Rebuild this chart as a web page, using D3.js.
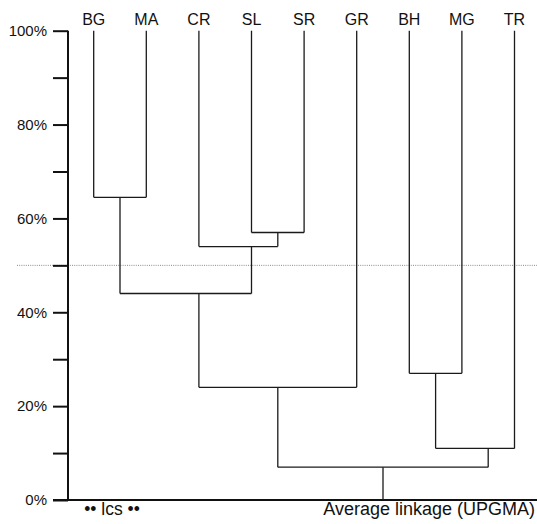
<!DOCTYPE html>
<html>
<head>
<meta charset="utf-8">
<script src="https://cdn.jsdelivr.net/npm/d3@7"></script>
<style>
  body { margin: 0; background: #fff; }
  svg { display: block; font-family: "Liberation Sans", Arial, Helvetica, sans-serif; }
  .link { stroke: #1a1a1a; stroke-width: 1.3; fill: none; }
</style>
</head>
<body>
<div id="chart"></div>
<script>
const width = 537;
const height = 524;

// leaves (left to right) and merges in UPGMA order
const leaves = ["BG", "MA", "CR", "SL", "SR", "GR", "BH", "MG", "TR"];
const mergeLeft = ["BG", "SL", "CR", "m0", "m3", "BH", "m5", "m4"];
const mergeRight = ["MA", "SR", "m1", "m2", "GR", "MG", "TR", "m6"];
const mergeHeight = [64.5, 57, 54, 44, 24, 27, 11, 7];

const tickValues = [0, 10, 20, 30, 40, 50, 60, 70, 80, 90, 100];
const labelValues = [0, 20, 40, 60, 80, 100];
const cutLevel = 50;

const svg = d3.select("#chart")
  .append("svg")
  .attr("width", width)
  .attr("height", height);

const x = d3.scaleLinear()
  .domain([0, leaves.length - 1])
  .range([93.7, 514.5]);

const y = d3.scaleLinear()
  .domain([0, 100])
  .range([500, 30.7]);

const axisX = 68;

// build node table: leaves sit at 100%
const nodes = {};
leaves.forEach((name, i) => {
  nodes[name] = { pos: i, h: 100 };
});

// merge node sits at the midpoint of its children, rounded up to the next half slot
mergeLeft.forEach((a, i) => {
  const b = mergeRight[i];
  const mid = (nodes[a].pos + nodes[b].pos) / 2;
  nodes["m" + i] = {
    pos: Math.ceil(mid * 2) / 2,
    h: mergeHeight[i],
    left: a,
    right: b,
  };
});

// 50% cut line
svg.append("line")
  .attr("x1", 17)
  .attr("x2", width)
  .attr("y1", y(cutLevel))
  .attr("y2", y(cutLevel))
  .attr("stroke", "#8a8a8a")
  .attr("stroke-width", 1)
  .attr("stroke-dasharray", "1,1.2");

// y axis
const axis = d3.axisLeft(y)
  .tickValues(tickValues)
  .tickSize(15)
  .tickPadding(6)
  .tickFormat(d => labelValues.includes(d) ? d + "%" : "");

const axisG = svg.append("g")
  .attr("transform", `translate(${axisX},0)`)
  .call(axis);

axisG.select(".domain")
  .attr("d", `M0,${y(100)}V${y(0)}`)
  .attr("stroke", "#111")
  .attr("stroke-width", 2);

axisG.selectAll(".tick line")
  .attr("stroke", "#111")
  .attr("stroke-width", 2);

axisG.selectAll(".tick text")
  .attr("fill", "#111")
  .style("font-size", "15px")
  .style("font-family", "'Liberation Sans', Arial, sans-serif");

// baseline
svg.append("line")
  .attr("x1", 53)
  .attr("x2", width)
  .attr("y1", y(0))
  .attr("y2", y(0))
  .attr("stroke", "#111")
  .attr("stroke-width", 2);

// dendrogram links
const links = [];
mergeLeft.forEach((a, i) => {
  const node = nodes["m" + i];
  [node.left, node.right].forEach(child => {
    const c = nodes[child];
    links.push({ x1: x(c.pos), y1: y(c.h), x2: x(c.pos), y2: y(node.h) });
  });
  links.push({
    x1: x(nodes[node.left].pos), y1: y(node.h),
    x2: x(nodes[node.right].pos), y2: y(node.h),
  });
});

// root stem down to 0%
const root = nodes["m" + (mergeLeft.length - 1)];
links.push({ x1: x(root.pos), y1: y(root.h), x2: x(root.pos), y2: y(0) });

svg.append("g")
  .selectAll("line")
  .data(links)
  .join("line")
  .attr("class", "link")
  .attr("x1", d => d.x1)
  .attr("y1", d => d.y1)
  .attr("x2", d => d.x2)
  .attr("y2", d => d.y2);

// leaf labels
svg.append("g")
  .selectAll("text")
  .data(leaves)
  .join("text")
  .attr("x", (d, i) => x(i))
  .attr("y", 25)
  .attr("text-anchor", "middle")
  .attr("fill", "#111")
  .style("font-size", "16px")
  .text(d => d);

// bottom captions
svg.append("text")
  .attr("x", 112)
  .attr("y", 515)
  .attr("text-anchor", "middle")
  .attr("fill", "#111")
  .style("font-size", "17.5px")
  .text("•• lcs ••");

svg.append("text")
  .attr("x", 535)
  .attr("y", 515)
  .attr("text-anchor", "end")
  .attr("fill", "#111")
  .style("font-size", "18px")
  .text("Average linkage (UPGMA)");
</script>
</body>
</html>
